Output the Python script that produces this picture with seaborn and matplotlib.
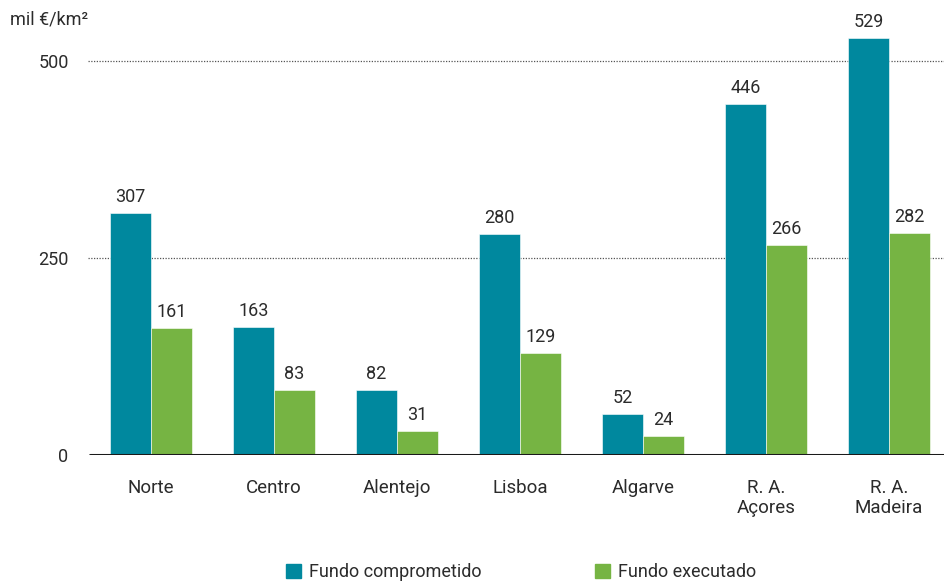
import matplotlib
matplotlib.use("Agg")
import matplotlib.pyplot as plt
import seaborn as sns
import pandas as pd

regions = ["Norte", "Centro", "Alentejo", "Lisboa", "Algarve", "R. A.\nAçores", "R. A.\nMadeira"]
comprometido = [307, 163, 82, 280, 52, 446, 529]
executado = [161, 83, 31, 129, 24, 266, 282]
series = ["Fundo comprometido", "Fundo executado"]
colors = ["#00889E", "#76B443"]

df = pd.DataFrame({
    "region": regions * 2,
    "value": comprometido + executado,
    "series": [series[0]] * len(regions) + [series[1]] * len(regions),
})

sns.set_theme(style="white")
plt.rcParams["font.family"] = ["Roboto", "DejaVu Sans"]
text_color = "#2b2b2b"

fig = plt.figure(figsize=(9.44, 5.82), dpi=100)
ax = fig.add_axes([88 / 944, 127 / 582, 1 - 88 / 944, (455 - 13.7) / 582])

sns.barplot(data=df, x="region", y="value", hue="series", palette=colors,
            width=0.667, gap=0, ax=ax, legend=False, saturation=1,
            edgecolor="white", linewidth=0.4)

for container in ax.containers:
    ax.bar_label(container, fmt="%d", padding=5, fontsize=13, color=text_color)

ax.set_xlim(-0.512, 6.447)
ax.set_ylim(0, 560)
for s in ax.spines.values():
    s.set_visible(False)
ax.axhline(0, color="#1a1a1a", lw=2.2, zorder=5, xmin=2 / 856)
for y in (250, 500):
    ax.axhline(y, color="#555555", lw=0.9, ls=(0, (1, 1.2)), zorder=0)

ax.set_yticks([0, 250, 500])
ax.set_yticklabels(["0", "250", "500"], fontsize=13, color=text_color)
ax.tick_params(axis="y", length=0, pad=14)
ax.tick_params(axis="x", length=0, pad=17, labelsize=13.5, labelcolor=text_color)
ax.set_xlabel("")
ax.set_ylabel("")

fig.text(10 / 944, 1 - 20 / 582, "mil €/km²", fontsize=13, color=text_color, va="center")

handles = [plt.Rectangle((0, 0), 1, 1, color=c) for c in colors]
fig.legend(handles, series, loc="center", bbox_to_anchor=(521 / 944, 1 - 572 / 582),
           ncol=2, frameon=False, fontsize=13, handlelength=0.8, handleheight=0.8,
           handletextpad=0.45, columnspacing=6.3, labelcolor=text_color)

fig.savefig("out.png", dpi=100)
